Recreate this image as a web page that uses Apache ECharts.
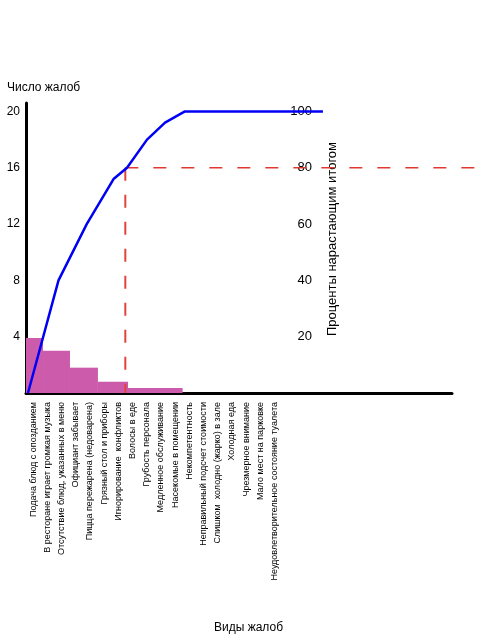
<!DOCTYPE html>
<html><head><meta charset="utf-8">
<script src="https://cdn.jsdelivr.net/npm/echarts@6/dist/echarts.min.js"></script>
<style>html,body{margin:0;padding:0;background:#fff}#c{width:480px;height:640px}</style>
</head><body><div id="c"></div>
<script>
const categories = [
  'Подача блюд с опозданием',
  'В ресторане играет громкая музыка',
  'Отсутствие блюд, указанных в меню',
  'Официант забывает',
  'Пицца пережарена (недоварена)',
  'Грязный стол и приборы',
  'Игнорирование  конфликтов',
  'Волосы в еде',
  'Грубость персонала',
  'Медленное обслуживание',
  'Насекомые в помещении',
  'Некомпетентность',
  'Неправильный подсчет стоимости',
  'Слишком  холодно (жарко) в зале',
  'Холодная еда',
  'Чрезмерное внимание',
  'Мало мест на парковке',
  'Неудовлетворительное состояние туалета'
];
const slotCount = 30;
const countTicks = [4, 8, 12, 16, 20];
const percentTicks = [20, 40, 60, 80, 100];
// complaint-count bars (step blocks, in category units)
const barStart = [0, 1.2, 3.1, 5.07, 7.19];
const barEnd = [1.2, 3.1, 5.07, 7.19, 11.04];
const barCount = [3.9, 3.0, 1.8, 0.8, 0.35];
// cumulative percentage line
const cumX = [0.14, 2.29, 4.28, 6.17, 7.12, 8.53, 9.80, 11.2, 20.93];
const cumPercent = [0, 40, 60, 76, 80, 90, 96, 100, 100];
// pareto cut-off
const cutoffX = 7.0;
const cutoffPercent = 80;
const xMax = 32;
const countMax = 20.6;
const percentMax = 103;

const padded = categories.concat(new Array(slotCount - categories.length).fill(''));
const font = 'Liberation Sans, Arial, sans-serif';

const chart = echarts.init(document.getElementById('c'));
chart.setOption({
  animation: false,
  textStyle: {fontFamily: font},
  title: [
    {text: 'Число жалоб', left: 7, top: 82, padding: 0, textStyle: {fontSize: 12, fontWeight: 'normal', color: '#000', fontFamily: font}},
    {text: 'Виды жалоб', left: 214, top: 622, padding: 0, textStyle: {fontSize: 12, fontWeight: 'normal', color: '#000', fontFamily: font}}
  ],
  grid: [
    {left: 26, right: 28, top: 103, bottom: 247, outerBoundsMode: 'none', containLabel: false},
    {left: 26, right: 0, top: 103, bottom: 247, outerBoundsMode: 'none', containLabel: false}
  ],
  xAxis: [
    {type: 'category', gridIndex: 0, data: padded, boundaryGap: true,
     axisLine: {show: true, lineStyle: {color: '#000', width: 3}},
     axisTick: {show: false}, splitLine: {show: false},
     axisLabel: {interval: 0, rotate: 90, margin: 9, fontSize: 9, color: '#000', fontFamily: font}},
    {type: 'value', gridIndex: 1, min: 0, max: xMax, show: false}
  ],
  yAxis: [
    {type: 'value', gridIndex: 0, min: 0, max: countMax, position: 'left',
     axisLine: {show: true, lineStyle: {color: '#000', width: 3}},
     axisTick: {show: false}, splitLine: {show: false},
     axisLabel: {customValues: countTicks, fontSize: 12, color: '#000', margin: 6, fontFamily: font}},
    {type: 'value', gridIndex: 0, min: 0, max: percentMax, position: 'right', offset: -136,
     axisLine: {show: false}, axisTick: {show: false}, splitLine: {show: false},
     axisLabel: {inside: true, customValues: percentTicks, fontSize: 13, color: '#000', margin: 4, fontFamily: font},
     name: 'Проценты нарастающим итогом', nameLocation: 'middle', nameGap: 10,
     nameTextStyle: {fontSize: 13, color: '#000', fontFamily: font, padding: [0, 0, 0, 18]}},
    {type: 'value', gridIndex: 1, min: 0, max: countMax, show: false},
    {type: 'value', gridIndex: 1, min: 0, max: percentMax, show: false}
  ],
  series: [
    {type: 'custom', xAxisIndex: 1, yAxisIndex: 2, z: 1,
     data: barStart.map((s, i) => [s, barEnd[i], barCount[i]]),
     encode: {x: [0, 1], y: 2},
     renderItem: function (params, api) {
       const p0 = api.coord([api.value(0), api.value(2)]);
       const p1 = api.coord([api.value(1), 0]);
       return {type: 'rect', shape: {x: p0[0], y: p0[1], width: p1[0] - p0[0], height: p1[1] - p0[1]},
               style: {fill: '#CD5BAC'}};
     }},
    {type: 'line', xAxisIndex: 1, yAxisIndex: 3, z: 4, symbol: 'none',
     data: [[cutoffX, cutoffPercent], [cutoffX, 0]],
     lineStyle: {color: '#E0443A', width: 2, type: [13, 14]}},
    {type: 'line', xAxisIndex: 1, yAxisIndex: 3, z: 4, symbol: 'none',
     data: [[cutoffX, cutoffPercent], [xMax, cutoffPercent]],
     lineStyle: {color: '#E03A30', width: 1.4, type: [13, 15]}},
    {type: 'line', xAxisIndex: 1, yAxisIndex: 3, z: 5, symbol: 'none',
     data: cumX.map((x, i) => [x, cumPercent[i]]),
     lineStyle: {color: '#0000F5', width: 2.5}}
  ]
});
</script></body></html>
